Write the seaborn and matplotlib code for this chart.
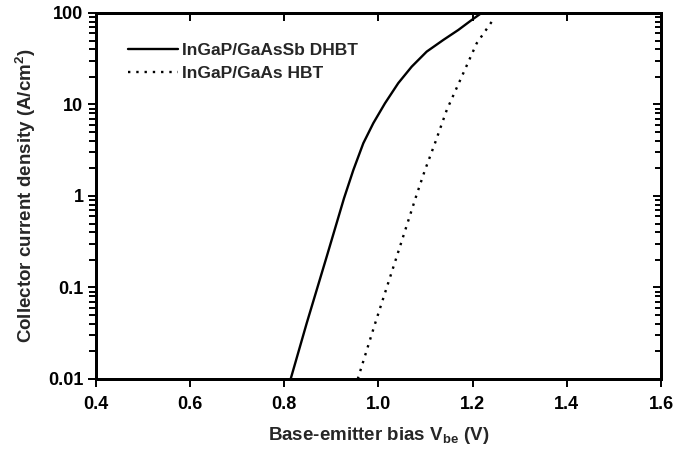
import numpy as np
import pandas as pd
import matplotlib
matplotlib.use("Agg")
import matplotlib.pyplot as plt
import seaborn as sns
from matplotlib.ticker import LogLocator, FixedLocator, NullFormatter, FixedFormatter

# Data
v_dhbt = [0.8135, 0.8475, 0.890, 0.9268, 0.9466, 0.9678, 0.989, 1.0138, 1.042, 1.0706, 1.1024, 1.1377, 1.1696, 1.198, 1.219]
j_dhbt = [0.01, 0.0406, 0.217, 0.944, 1.92, 3.77, 6.24, 10.3, 17.1, 25.9, 37.8, 50.7, 65.2, 83.8, 100.0]
v_hbt = [0.956, 0.993, 1.0365, 1.081, 1.0988, 1.12, 1.145, 1.1768, 1.2086, 1.244]
j_hbt = [0.01, 0.0406, 0.2, 1.03, 1.92, 3.77, 8.7, 20.1, 46.6, 85.0]
series_names = ["InGaP/GaAsSb DHBT", "InGaP/GaAs HBT"]
x_ticks = [0.4, 0.6, 0.8, 1.0, 1.2, 1.4, 1.6]
x_tick_labels = ["0.4", "0.6", "0.8", "1.0", "1.2", "1.4", "1.6"]
y_ticks = [0.01, 0.1, 1, 10, 100]
y_tick_labels = ["0.01", "0.1", "1", "10", "100"]

df = pd.concat([
    pd.DataFrame({"V": v_dhbt, "J": j_dhbt, "device": series_names[0]}),
    pd.DataFrame({"V": v_hbt, "J": j_hbt, "device": series_names[1]}),
])

sns.set_theme(style="ticks")
plt.rcParams["font.family"] = ["Liberation Sans", "DejaVu Sans"]
plt.rcParams["font.weight"] = "bold"
plt.rcParams["mathtext.default"] = "bf"

fig = plt.figure(figsize=(6.75, 4.53), dpi=100)
ax = fig.add_axes([0.1422, 0.1634, 0.837, 0.808])

sns.lineplot(data=df, x="V", y="J", hue="device", style="device",
             palette=["black", "black"], dashes=[(None, None), (1, 2.5)],
             linewidth=1.7, ax=ax, sort=False, estimator=None)

ax.set_yscale("log")
ax.set_xlim(0.4, 1.6)
ax.set_ylim(0.01, 100)

SP = 2.0
def style_axis(a):
    for s in a.spines.values():
        s.set_linewidth(SP)
        s.set_color("black")

# twin axes to get inward ticks on top/right
axr = ax.twinx()
axr.set_yscale("log")
axr.set_ylim(0.01, 100)
axr.yaxis.set_major_locator(FixedLocator(y_ticks))
axr.yaxis.set_minor_locator(LogLocator(base=10, subs=np.arange(2, 10), numticks=20))
axr.yaxis.set_major_formatter(NullFormatter())
axr.yaxis.set_minor_formatter(NullFormatter())
axr.tick_params(axis="y", which="both", direction="in", right=True, left=False,
                labelright=False, width=1.4, colors="black")
axr.tick_params(axis="y", which="major", length=6)
axr.tick_params(axis="y", which="minor", length=4)
axt = ax.twiny()
axt.set_xlim(0.4, 1.6)
axt.xaxis.set_major_locator(FixedLocator(x_ticks))
axt.xaxis.set_major_formatter(NullFormatter())
axt.tick_params(axis="x", which="both", direction="in", top=True, bottom=False,
                labeltop=False, width=1.4, length=6, colors="black")
style_axis(axr)
style_axis(axt)

ax.xaxis.set_major_locator(FixedLocator(x_ticks))
ax.xaxis.set_major_formatter(FixedFormatter(x_tick_labels))
ax.yaxis.set_major_locator(FixedLocator(y_ticks))
ax.yaxis.set_major_formatter(FixedFormatter(y_tick_labels))
ax.yaxis.set_minor_locator(LogLocator(base=10, subs=np.arange(2, 10), numticks=20))
ax.yaxis.set_minor_formatter(NullFormatter())

ax.tick_params(which="both", direction="out", top=False, right=False, width=1.4, colors="black")
ax.tick_params(axis="x", which="major", length=6, labelsize=13, pad=6)
ax.tick_params(axis="y", which="major", length=6, labelsize=13, pad=3)
ax.tick_params(axis="y", which="minor", length=5)
style_axis(ax)

ax.set_xlabel("Base-emitter bias V$_{\\mathregular{be}}$ (V)", fontsize=13.5, fontweight="bold", labelpad=9)
ax.set_ylabel("Collector current density (A/cm$^{\\mathregular{2}}$)", fontsize=13.5, fontweight="bold", labelpad=7)

handles, labels = ax.get_legend_handles_labels()
leg = ax.legend(handles=handles, labels=labels, loc="upper left", bbox_to_anchor=(0.0566, 0.917),
                frameon=False, fontsize=12.5, handlelength=2.9, handletextpad=0.2,
                labelspacing=0.45, borderpad=0, borderaxespad=0)
for t in leg.get_texts():
    t.set_fontweight("bold")

fig.savefig("out.png", dpi=100)
